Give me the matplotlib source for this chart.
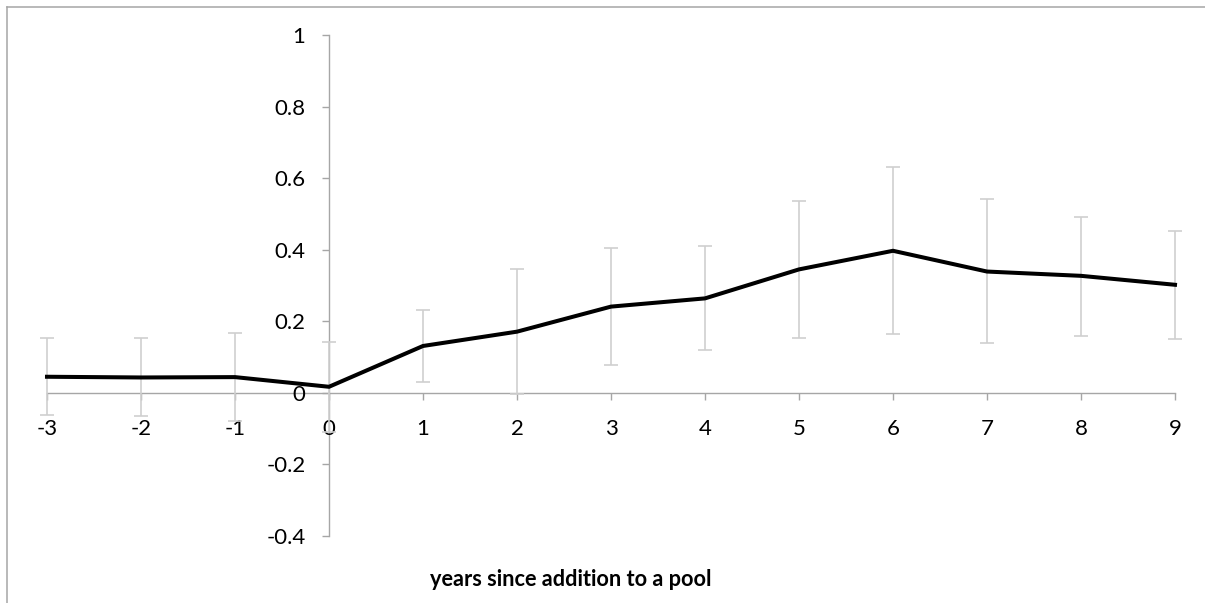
import matplotlib
matplotlib.use("Agg")
import matplotlib.pyplot as plt
from matplotlib.lines import Line2D

years = [-3, -2, -1, 0, 1, 2, 3, 4, 5, 6, 7, 8, 9]
effect = [0.045, 0.043, 0.044, 0.017, 0.131, 0.171, 0.241, 0.264, 0.345, 0.397, 0.339, 0.327, 0.302]
upper = [0.153, 0.153, 0.166, 0.142, 0.231, 0.345, 0.404, 0.409, 0.537, 0.632, 0.541, 0.492, 0.453]
lower = [-0.061, -0.066, -0.078, -0.108, 0.029, -0.004, 0.079, 0.120, 0.154, 0.164, 0.140, 0.160, 0.151]
yticks = [-0.4, -0.2, 0, 0.2, 0.4, 0.6, 0.8, 1]
ytick_labels = ["-0.4", "-0.2", "0", "0.2", "0.4", "0.6", "0.8", "1"]
xlabel = "years since addition to a pool"

plt.rcParams['font.family'] = ['Lato', 'DejaVu Sans']

W, H = 1205, 603
fig = plt.figure(figsize=(W / 100, H / 100), dpi=100)
fig.patch.set_facecolor("white")

# outer chart border (top and left edges visible)
bx, by = 7 / W, 1 - 6.5 / H
fig.add_artist(Line2D([bx, 1.01], [by, by], transform=fig.transFigure,
                      color="#a6a6a6", linewidth=1.1))
fig.add_artist(Line2D([bx, bx], [-0.01, by], transform=fig.transFigure,
                      color="#a6a6a6", linewidth=1.1))

ax = fig.add_axes([47 / W, 1 - 536 / H, (1175 - 47) / W, (536 - 35) / H])
ax.set_xlim(-3, 9)
ax.set_ylim(-0.4, 1)

err_lo = [e - l for e, l in zip(effect, lower)]
err_hi = [u - e for e, u in zip(effect, upper)]
ax.errorbar(years, effect, yerr=[err_lo, err_hi], fmt='none', ecolor="#cfcfcf",
            elinewidth=1.2, capsize=5, capthick=1.2, zorder=2, clip_on=False)
ax.plot(years, effect, color="black", linewidth=2.9, zorder=3, solid_joinstyle="miter", clip_on=False)

for s in ["top", "right"]:
    ax.spines[s].set_visible(False)
ax.spines["left"].set_position(("data", 0))
ax.spines["bottom"].set_position(("data", 0))
for s in ["left", "bottom"]:
    ax.spines[s].set_color("#a6a6a6")
    ax.spines[s].set_linewidth(1.0)
    ax.spines[s].set_zorder(1)

ax.set_xticks(years)
ax.set_xticklabels([str(y) for y in years])
ax.set_yticks(yticks)
ax.set_yticklabels(ytick_labels)
ax.tick_params(axis="both", direction="out", length=5, width=1.0, color="#a6a6a6",
               labelsize=16, labelcolor="black")
ax.tick_params(axis="x", pad=14)
ax.tick_params(axis="y", pad=12)
ax.patch.set_alpha(0)

fig.text(571 / W, 1 - 580 / H, xlabel, ha="center", va="center", fontsize=15.7,
         fontweight="bold", color="black")

fig.savefig("out.png", dpi=100)
